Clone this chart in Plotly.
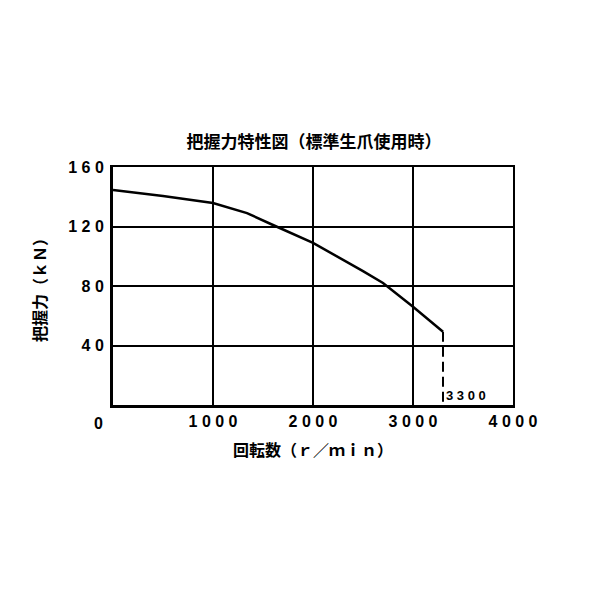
import plotly.graph_objects as go

# 把握力特性 (標準生爪使用時)
rpm = [0, 500, 1000, 1340, 1600, 2000, 2500, 2700, 3000, 3300]
force_kn = [144.5, 140.5, 135.8, 129, 121, 109, 90, 82, 66, 49.3]

max_rpm = 3300
x_ticks = [1000, 2000, 3000, 4000]
x_labels = ["<b>1 0 0 0</b>", "<b>2 0 0 0</b>", "<b>3 0 0 0</b>", "<b>4 0 0 0</b>"]
y_ticks = [40, 80, 120, 160]
y_labels = ["<b>4 0</b>", "<b>8 0</b>", "<b>1 2 0</b>", "<b>1 6 0</b>"]

num_font = "Liberation Sans"
jp_font = "Noto Sans CJK JP"

fig = go.Figure()

fig.add_trace(go.Scatter(
    x=rpm, y=force_kn, mode="lines",
    line=dict(color="black", width=2.5),
    hoverinfo="skip", showlegend=False,
))

# 最高回転数の破線
fig.add_trace(go.Scatter(
    x=[max_rpm, max_rpm], y=[force_kn[-1], 0], mode="lines",
    line=dict(color="black", width=2, dash="10px,5px"),
    hoverinfo="skip", showlegend=False,
))

# 上・右の枠線用ダミー
fig.add_trace(go.Scatter(
    x=[0], y=[0], xaxis="x2", yaxis="y2", mode="markers",
    marker=dict(opacity=0), hoverinfo="skip", showlegend=False,
))

fig.add_annotation(
    x=max_rpm, y=0, text="<b>3 3 0 0</b>", showarrow=False,
    xanchor="left", yanchor="bottom", xshift=1, yshift=0,
    font=dict(family=num_font, size=13, color="black"),
)
fig.add_annotation(
    x=0, y=0, text="<b>0</b>", showarrow=False,
    xanchor="center", yanchor="top", xshift=-15, yshift=-8,
    font=dict(family=num_font, size=16, color="black"),
)

# ページ余白 8px を考慮した余白
fig.update_layout(
    width=600, height=600,
    paper_bgcolor="white", plot_bgcolor="white",
    margin=dict(l=105, r=95, t=159, b=203, autoexpand=False),
    title=dict(
        text="<b>把握力特性図（標準生爪使用時）</b>",
        x=0.51, xanchor="center", y=0.777, yanchor="middle",
        font=dict(family=jp_font, size=17, color="black"),
    ),
    xaxis=dict(
        range=[0, 4000], tickvals=x_ticks, ticktext=x_labels,
        showgrid=True, gridcolor="black", gridwidth=2,
        showline=True, linecolor="black", linewidth=3,
        zeroline=False, ticks="", automargin=False,
        tickfont=dict(family=num_font, size=16, color="black"),
        title=dict(
            text="<b>回転数（ｒ／ｍｉｎ）</b>", standoff=16,
            font=dict(family=jp_font, size=16, color="black"),
        ),
    ),
    yaxis=dict(
        range=[0, 160], tickvals=y_ticks, ticktext=y_labels,
        showgrid=True, gridcolor="black", gridwidth=2,
        showline=True, linecolor="black", linewidth=3,
        zeroline=False, ticks="", automargin=False, ticklabelstandoff=3,
        tickfont=dict(family=num_font, size=16, color="black"),
        title=dict(
            text="<b>把握力（ｋＮ）</b>", standoff=18,
            font=dict(family=jp_font, size=16, color="black"),
        ),
    ),
    xaxis2=dict(
        range=[0, 4000], overlaying="x", side="top", showgrid=False,
        showline=True, linecolor="black", linewidth=2,
        showticklabels=False, ticks="", zeroline=False,
    ),
    yaxis2=dict(
        range=[0, 160], overlaying="y", side="right", showgrid=False,
        showline=True, linecolor="black", linewidth=2,
        showticklabels=False, ticks="", zeroline=False,
    ),
)

fig.write_html("out.html")
